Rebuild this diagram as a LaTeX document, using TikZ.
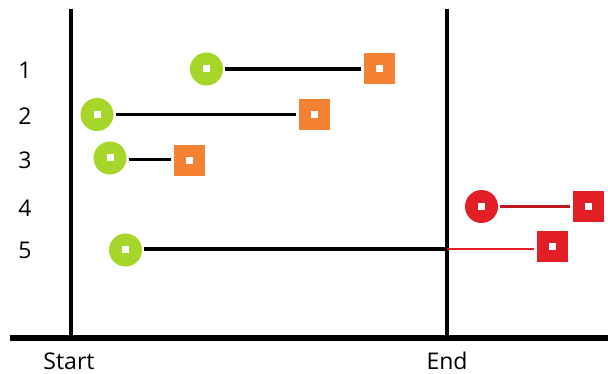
\documentclass[tikz,border=0pt]{standalone}
\usepackage{fontspec}
\setmainfont{Open Sans}
\usepackage{tikz}
\usetikzlibrary{calc}
\definecolor{lime}{RGB}{166,214,42}
\definecolor{tangerine}{RGB}{245,130,50}
\definecolor{signal}{RGB}{226,30,38}
\tikzset{
	dot/.style={circle, fill=#1, draw=none, minimum size=33pt, inner sep=0pt, outer sep=2pt,
		path picture={\fill[white] ($(path picture bounding box.center)+(-3.5,-3.5)$) rectangle ++(7,7);}},
	stop/.style={rectangle, fill=#1, draw=none, minimum size=31pt, inner sep=0pt, outer sep=3pt,
		path picture={\fill[white] ($(path picture bounding box.center)+(-3.5,-3.5)$) rectangle ++(7,7);}},
	row/.style={font=\fontsize{23}{27}\selectfont, anchor=center},
	bar/.style={line width=3.5pt}
}

\begin{document}
\begin{tikzpicture}[x=1pt, y=-1pt]
			%%%%% START %%%%%
			\useasboundingbox[fill=white] (0,0) rectangle (608,374);
			
			% time axis and the two limits
			\draw[line width=6.5pt] (10,338) -- (608,338);
			\draw[line width=4pt] (70.5,9) -- (70.5,338);
			\draw[line width=4pt] (446.5,9) -- (446.5,338);
			\node[row] (start) at (69,361) {Start};
			\node[row] (end) at (447,361) {End};
			
			% row numbers
			\foreach \n/\y in {1/70, 2/116, 3/160, 4/208, 5/250}
				\node[row] (n\n) at (25,\y) {\n};
			
			% intervals
			\node[dot=lime] (s1) at (206.5,69) {};
			\node[stop=tangerine] (e1) at (379,69) {};
			\draw[bar] (s1) -- (e1);
			
			\node[dot=lime] (s2) at (97,114.5) {};
			\node[stop=tangerine] (e2) at (314,114.5) {};
			\draw[bar] (s2) -- (e2);
			
			\node[dot=lime] (s3) at (110,158) {};
			\node[stop=tangerine] (e3) at (189.5,161) {};
			\draw[bar] (s3.east |- 0,159.5) -- (e3.west |- 0,159.5);
			
			\node[dot=signal] (s4) at (481.5,206.5) {};
			\node[stop=signal] (e4) at (588,206.5) {};
			\draw[bar, color=signal!85!black] (s4) -- (e4);
			
			\node[dot=lime] (s5) at (125.5,250) {};
			\node[stop=signal] (e5) at (552,246.5) {};
			\coordinate (x5) at (446.5,249);
			\draw[bar] (s5.east |- x5) -- (x5);
			\draw[line width=2.5pt, color=signal] (x5) -- (e5.west |- x5);
			%%%%% END %%%%%
\end{tikzpicture}
\end{document}
